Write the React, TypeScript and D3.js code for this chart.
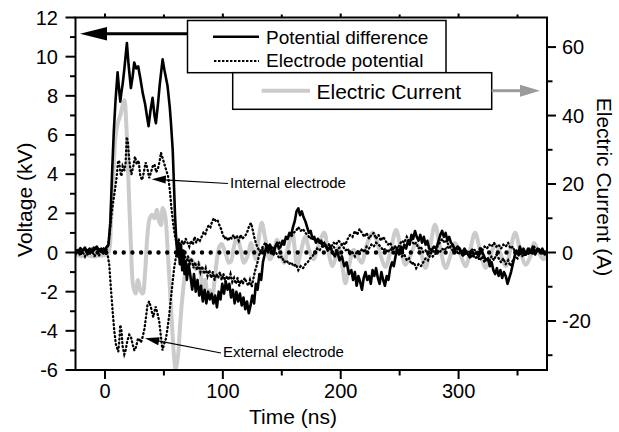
import React from 'react';
import * as d3 from 'd3';

// ---- axes ----
const timeDomain = [-25, 375];
const voltDomain = [-6, 12];
const currentPerKV = 5.72;
const timeTicks = [0, 100, 200, 300];
const timeMinor = [50, 150, 250, 350];
const voltTicks = [-6, -4, -2, 0, 2, 4, 6, 8, 10, 12];
const voltMinor = [-5, -3, -1, 1, 3, 5, 7, 9, 11];
const currTicks = [-20, 0, 20, 40, 60];
const currMinor = [-30, -10, 10, 30, 50];

// ---- series: [time ns, kV] ----
const potentialDiff: [number, number][] = [
  [-25,0.1],[-23,0.0],[-21,0.2],[-19,0.1],[-17,0.25],[-15,0.05],[-13,0.2],[-11,0.0],[-9,0.15],[-7,0.3],[-5,0.1],[-3,0.2],[-1,0.05],[1,0.25],[3,0.4],[4.5,1.5],[6,4.0],[7.5,6.2],[9,7.8],[10.7,9.2],[12,8.3],[13,7.7],[14,8.2],[15,8.6],[16.5,9.4],[18.6,10.7],[20,9.6],[22,8.4],[23.5,9.0],[24.8,9.7],[26.5,9.4],[28.2,9.5],[30,8.9],[32,8.15],[34,7.6],[35.5,7.0],[37,6.45],[38.5,7.2],[40.4,7.9],[42,7.0],[43.2,6.6],[45,7.6],[46.5,8.6],[48.9,9.86],[50.5,9.3],[53.1,8.5],[55,7.4],[56,6.6],[57.5,5.2],[58.5,3.5],[59.5,1.8],[60.5,0.6],[61.5,-0.2],[62.5,0.5],[63.5,-0.6],[64.5,0.4],[65.5,-0.9],[66.5,0.1],[67.5,-1.1],[68.5,-0.5],[69.5,-1.4],[71,-0.6],[72.5,-1.2],[74,-1.9],[75.5,-1.1],[77,-2.0],[78.5,-1.4],[80,-2.2],[81.5,-1.7],[83,-2.5],[84.5,-1.9],[86,-2.6],[87.5,-2.0],[89,-2.4],[90.5,-2.1],[92,-2.6],[93.5,-2.2],[95,-2.8],[96.5,-2.0],[98,-2.4],[99.5,-1.6],[101,-2.1],[102.5,-1.5],[104,-1.9],[105.5,-1.6],[107,-2.3],[108.5,-1.9],[110,-2.6],[111.5,-2.0],[113,-2.5],[114.5,-2.1],[116,-2.7],[117.5,-2.3],[119,-2.9],[120.5,-2.5],[122,-3.1],[123.5,-2.7],[125,-2.2],[126.5,-2.6],[128,-1.6],[129.5,-1.9],[131,-1.1],[132.5,-1.4],[134,-0.5],[135.5,-0.1],[137,0.4],[138.5,0.0],[140,0.4],[141.5,0.1],[143,-0.1],[144.5,0.3],[146,0.5],[147.5,0.2],[149,0.3],[150.5,0.6],[152,0.4],[153.5,0.8],[155,0.7],[156.5,1.0],[158,0.9],[159.5,1.3],[161,1.6],[162.5,2.1],[164,2.25],[165.5,1.9],[167,2.1],[168.5,1.8],[170,1.6],[171.5,1.3],[173,1.0],[174.5,1.1],[176,0.7],[177.5,0.8],[179,0.5],[180.5,0.7],[182,0.5],[183.5,0.6],[185,0.3],[187,0.4],[189,0.1],[191,0.3],[193,0.0],[195,-0.2],[197,0.1],[199,-0.4],[201,-0.2],[203,-0.7],[205,-0.5],[207,-1.1],[209,-0.9],[210.5,-1.4],[212,-1.0],[213.5,-1.7],[215,-1.2],[216.5,-1.5],[218,-1.9],[219.5,-1.3],[221,-1.0],[222.5,-1.4],[224,-1.2],[225.5,-1.6],[227,-0.9],[228.5,-1.2],[230,-0.8],[231.5,-1.3],[233,-1.6],[234.5,-1.0],[236,-1.4],[237.5,-1.7],[239,-1.2],[240.5,-1.4],[242,-0.8],[243.5,-0.5],[245,-0.7],[246.5,-0.2],[248,0.2],[249.5,-0.1],[251,0.3],[252.5,0.1],[254,0.4],[255.5,0.2],[257,0.6],[258.5,0.4],[260,0.9],[261.5,0.7],[263,1.1],[264.5,0.8],[266,0.6],[267.5,0.9],[269,0.5],[270.5,0.8],[272,0.4],[273.5,0.6],[275,0.2],[277,0.1],[279,0.3],[281,0.2],[283,0.6],[284.5,0.9],[286,1.1],[287.5,0.8],[289,1.0],[290.5,0.6],[292,0.8],[293.5,0.5],[295,0.4],[297,0.1],[299,0.3],[301,0.2],[303,-0.1],[305,0.2],[307,0.0],[309,-0.2],[311,0.1],[313,-0.1],[315,0.0],[317,-0.2],[319,0.2],[321,-0.1],[323,-0.4],[325,-0.3],[326.5,-0.7],[328,-0.5],[329.5,-0.9],[331,-1.1],[332.5,-0.8],[334,-1.2],[335.5,-0.9],[337,-1.3],[338.5,-1.0],[340,-1.2],[341.5,-1.6],[343,-1.3],[344.5,-1.0],[346,-0.6],[347.5,-0.2],[349,0.1],[350.5,-0.1],[352,0.3],[353.5,0.0],[355,0.2],[357,-0.1],[359,0.2],[361,0.0],[363,0.3],[365,-0.1],[367,0.2],[369,0.0],[371,0.2],[373,-0.1],[375,0.1]
];

const internalElectrode: [number, number][] = [
  [-25,0.15],[-23,0.05],[-21,0.25],[-19,0.0],[-17,0.2],[-15,-0.1],[-13,0.15],[-11,0.05],[-9,0.3],[-7,0.1],[-5,0.2],[-3,-0.05],[-1,0.2],[1,0.1],[2.5,0.3],[4,1.0],[5.5,1.9],[7,2.6],[8.5,3.2],[10,3.9],[11,4.6],[12,4.7],[13,4.1],[14,3.9],[15,4.4],[16.5,4.2],[17.5,4.6],[18.5,5.9],[19.5,5.6],[20.5,4.8],[21.5,4.3],[22.5,4.0],[24,4.4],[25.5,4.9],[27,4.5],[28.5,4.7],[30,3.9],[31.5,3.7],[33,4.1],[34.5,4.6],[36,4.3],[37.5,3.8],[39,4.1],[40.5,4.4],[42,4.5],[43.5,4.1],[45,4.3],[46.5,4.7],[47.5,5.1],[49,4.8],[50.5,4.5],[52,4.2],[53.5,3.9],[55,3.2],[56.5,2.2],[58,1.4],[59.5,0.8],[61,0.4],[62.5,0.7],[64,0.3],[65.5,0.6],[67,0.4],[68.5,0.7],[70,0.5],[71.5,0.3],[73,0.6],[74.5,0.4],[76,0.8],[77.5,0.5],[79,0.7],[80.5,0.6],[82,0.8],[83.5,1.0],[85,0.9],[86.5,1.2],[88,1.4],[89.5,1.3],[91,1.6],[92.5,1.75],[94,1.6],[95.5,1.65],[97,1.4],[98.5,1.2],[100,0.9],[101.5,0.7],[103,0.8],[104.5,0.6],[106,0.8],[107.5,0.7],[109,0.9],[110.5,0.7],[112,0.8],[113.5,0.6],[115,0.9],[116.5,0.7],[118,0.8],[119.5,0.9],[121,1.1],[122.5,1.4],[124,1.5],[125.5,1.1],[127,0.7],[128.5,0.4],[130,0.2],[132,0.0],[134,0.2],[136,0.0],[138,0.2],[140,0.1],[142,0.3],[144,0.2],[146,0.4],[148,0.5],[150,0.4],[152,0.6],[154,0.7],[156,0.9],[158,0.8],[160,1.0],[162,1.1],[164,1.3],[166,1.1],[168,1.2],[170,1.0],[172,0.9],[174,0.7],[176,0.8],[178,0.6],[180,0.5],[182,0.6],[184,0.4],[186,0.5],[188,0.3],[190,0.4],[192,0.2],[194,0.3],[196,0.1],[198,0.2],[200,0.3],[202,0.5],[204,0.4],[206,0.7],[208,0.9],[210,0.8],[212,1.1],[214,0.9],[216,1.2],[218,1.0],[220,0.8],[222,1.0],[224,0.7],[226,0.9],[228,1.0],[230,0.7],[232,0.9],[234,0.6],[236,0.8],[238,0.6],[240,0.4],[242,0.5],[244,0.2],[246,0.3],[248,0.0],[250,0.1],[252,-0.2],[254,-0.1],[256,-0.4],[258,-0.3],[260,-0.6],[262,-0.5],[264,-0.8],[266,-0.6],[268,-0.7],[270,-0.5],[272,-0.3],[274,-0.4],[276,-0.1],[278,0.1],[280,0.0],[282,0.3],[284,0.5],[286,0.7],[288,0.5],[290,0.6],[292,0.3],[294,0.2],[296,0.0],[298,0.1],[300,-0.1],[302,0.1],[304,-0.2],[306,0.0],[308,-0.1],[310,-0.3],[312,-0.1],[314,-0.3],[316,-0.2],[318,-0.4],[320,-0.2],[322,-0.5],[324,-0.3],[326,-0.5],[328,-0.2],[330,-0.4],[332,-0.1],[334,-0.3],[336,-0.5],[338,-0.3],[340,-0.6],[342,-0.4],[344,-0.7],[346,-0.4],[348,-0.2],[350,-0.3],[352,0.0],[354,-0.2],[356,0.1],[358,-0.1],[360,0.2],[362,0.0],[364,0.3],[366,0.1],[368,0.2],[370,0.0],[372,0.1],[374,-0.1]
];

const externalElectrode: [number, number][] = [
  [-25,-0.1],[-23,0.1],[-21,-0.15],[-19,0.05],[-17,-0.2],[-15,0.1],[-13,-0.1],[-11,0.15],[-9,-0.2],[-7,0.0],[-5,-0.15],[-3,0.1],[-1,-0.1],[1,-0.05],[2.5,-0.2],[3.6,-0.6],[5,-1.8],[6.5,-3.0],[7.9,-4.0],[9.3,-4.7],[11.3,-5.06],[12.3,-4.4],[13,-3.7],[14,-4.0],[15,-4.8],[16.4,-5.2],[17.5,-5.0],[19,-4.5],[20.6,-4.2],[22,-4.3],[23.5,-4.7],[25,-5.0],[26.5,-4.8],[28,-4.4],[29,-4.4],[30.5,-4.6],[32,-4.3],[33.5,-3.9],[34.7,-3.35],[36,-2.7],[37.5,-2.5],[39,-2.8],[40,-3.1],[41,-3.3],[42,-3.0],[43,-2.76],[44.5,-3.1],[46,-3.5],[47.5,-4.3],[48.8,-5.0],[50,-4.7],[51.7,-4.4],[53,-3.9],[54.5,-3.2],[56,-2.3],[57.4,-1.5],[58.7,-0.8],[60,-0.3],[61.5,0.1],[63,-0.3],[64.5,0.2],[66,-0.4],[67.5,0.0],[69,-0.5],[70.5,-0.2],[72,-0.6],[73.5,-0.3],[75,-0.8],[76.5,-0.5],[78,-0.9],[79.5,-0.6],[81,-1.0],[82.5,-0.7],[84,-1.1],[85.5,-0.8],[87,-1.2],[88.5,-0.9],[90,-1.3],[91.5,-1.0],[93,-1.4],[94.5,-1.1],[96,-1.3],[97.5,-1.0],[99,-1.4],[100.5,-1.1],[102,-1.5],[103.5,-1.2],[105,-1.4],[106.5,-1.1],[108,-1.5],[109.5,-1.3],[111,-1.6],[112.5,-1.3],[114,-1.7],[115.5,-1.4],[117,-1.6],[118.5,-1.3],[120,-1.5],[121.5,-1.7],[123,-1.4],[124.5,-1.75],[126,-1.3],[127.5,-0.9],[129,-0.6],[130.5,-0.2],[132,0.1],[134,0.3],[136,0.5],[138,0.3],[140,0.4],[142,0.2],[144,0.1],[146,-0.1],[148,-0.3],[150,-0.2],[152,-0.5],[154,-0.4],[156,-0.6],[158,-0.5],[160,-0.7],[162,-0.6],[164,-0.9],[166,-0.7],[168,-0.8],[170,-0.6],[172,-0.5],[174,-0.3],[176,-0.2],[178,0.0],[180,0.2],[182,0.1],[184,0.3],[186,0.4],[188,0.2],[190,0.4],[192,0.3],[194,0.5],[196,0.4],[198,0.6],[200,0.5],[202,0.3],[204,0.1],[206,0.2],[208,-0.1],[210,0.0],[212,-0.2],[214,0.1],[216,-0.1],[218,0.2],[220,0.0],[222,0.3],[224,0.2],[226,0.4],[228,0.3],[230,0.5],[232,0.4],[234,0.3],[236,0.1],[238,0.2],[240,0.0],[242,0.2],[244,0.1],[246,0.3],[248,0.2],[250,0.4],[252,0.6],[254,0.5],[256,0.8],[258,0.6],[260,0.7],[262,0.4],[264,0.5],[266,0.2],[268,0.3],[270,0.0],[272,0.1],[274,-0.1],[276,0.0],[278,-0.2],[280,-0.1],[282,0.1],[284,0.0],[286,0.2],[288,0.1],[290,0.3],[292,0.2],[294,0.4],[296,0.3],[298,0.1],[300,0.2],[302,0.0],[304,0.1],[306,-0.1],[308,0.1],[310,0.0],[312,0.2],[314,0.1],[316,0.0],[318,0.2],[320,0.1],[322,0.3],[324,0.2],[326,0.4],[328,0.3],[330,0.5],[332,0.3],[334,0.4],[336,0.2],[338,0.4],[340,0.3],[342,0.5],[344,0.2],[346,0.3],[348,0.0],[350,0.1],[352,-0.1],[354,0.1],[356,-0.2],[358,0.0],[360,-0.1],[362,0.1],[364,-0.1],[366,0.1],[368,0.0],[370,0.1],[372,-0.1],[374,0.0]
];

// [time ns, A]
const electricCurrent: [number, number][] = [
  [-25,-0.5],[-20,-1.0],[-15,-0.8],[-10,-1.2],[-5,-0.9],[0,-0.7],[3,0.0],[5,8],[7,22],[9,34],[11,38],[13,40],[15,43],[16.5,44.5],[18,38],[20,20],[22,2],[24,-10],[26,-12],[28,-8],[30,-11],[32,-12],[34,-6],[36,5],[38,10],[40,11],[42,10],[44,12.5],[46,9],[47.5,8],[49,13],[51,11],[53,2],[55,-10],[57,-22],[59,-32],[60,-34],[62,-30],[64,-20],[66,-12],[68,-6],[70,-3],[73,-2],[75,-3],[77,-5],[79,-3],[81,-6],[83,-10],[85,-8],[87,-12],[89,-11],[91,-13],[93,-8],[95,-2],[97,1.7],[99,2.5],[101,1],[103,-1],[105,-3],[107,-2.5],[109,1],[112,4.6],[115,1],[118,-3],[121,-1],[124,2.8],[126,0],[128,-2],[130,3],[133,8.7],[136,4],[140,-2],[143,0],[146,3.7],[149,0],[152,-3],[155,1],[159,5.8],[161,1],[163,-4],[166,0],[170,4.6],[173,1],[177,-2],[180,1],[186,5.8],[189,1],[193,-4],[196,-1],[198,1.7],[201,-3],[204,-9],[207,-4],[211,0.8],[214,-1],[218,-3],[221,1],[224,4],[227,5.8],[230,4],[234,-1],[238,-4.2],[242,0],[247,6.6],[251,1],[255,-3.6],[259,-1],[264,2.8],[268,0],[272,-4.5],[276,2],[280,8.1],[284,2],[289,-4.5],[293,-1],[297,2.8],[301,0],[306,-4],[310,1],[314,5.8],[318,1],[323,-4.5],[327,-1],[331,2.2],[335,0],[340,-4],[344,1],[348,5.8],[352,1],[357,-3.6],[361,-1],[364,2.8],[368,0],[372,-2],[375,0]
];

const zeroLine: [number, number][] = [[-21, 0], [373, 0]];

const legendLabels = ['Potential difference', 'Electrode potential', 'Electric Current'];
const annotationLabels = ['Internal electrode', 'External electrode'];

const W = 619, H = 432;
const M = { left: 75.5, right: 547, top: 17.5, bottom: 370 };
const FONT = "'Liberation Sans', Arial, Helvetica, sans-serif";
const DOTS = "0.9 3.1";

export default function App() {
  const x = d3.scaleLinear().domain(timeDomain).range([M.left, M.right]);
  const y = d3.scaleLinear().domain(voltDomain).range([M.bottom, M.top]);
  const y2 = d3.scaleLinear()
    .domain([voltDomain[0] * currentPerKV, voltDomain[1] * currentPerKV])
    .range([M.bottom, M.top]);

  const lineV = d3.line<[number, number]>().x(d => x(d[0])).y(d => y(d[1]));
  const lineA = d3.line<[number, number]>().x(d => x(d[0])).y(d => y2(d[1])).curve(d3.curveCatmullRom.alpha(0.5));

  const major = 9, minor = 5.5;

  return (
    <svg width={W} height={H} style={{ position: 'absolute', left: 0, top: 0, background: '#fff' }}
      fontFamily={FONT}>
      <defs>
        <clipPath id="plot">
          <rect x={M.left} y={M.top} width={M.right - M.left} height={M.bottom - M.top} />
        </clipPath>
      </defs>
      <rect x={0} y={0} width={W} height={H} fill="#fff" />

      <g clipPath="url(#plot)">
        <path d={lineA(electricCurrent) || ''} fill="none" stroke="#cbcbcb" strokeWidth={4} strokeLinejoin="round" />
        <path d={lineV(zeroLine) || ''} fill="none" stroke="#000" strokeWidth={4.4}
          strokeDasharray="0 8.7" strokeLinecap="round" />
        <path d={lineV(externalElectrode) || ''} fill="none" stroke="#000" strokeWidth={2.3}
          strokeDasharray={DOTS} strokeLinecap="round" />
        <path d={lineV(internalElectrode) || ''} fill="none" stroke="#000" strokeWidth={2.3}
          strokeDasharray={DOTS} strokeLinecap="round" />
        <path d={lineV(potentialDiff) || ''} fill="none" stroke="#000" strokeWidth={2.6} strokeLinejoin="round" />
      </g>

      {/* frame */}
      <rect x={M.left} y={M.top} width={M.right - M.left} height={M.bottom - M.top}
        fill="none" stroke="#000" strokeWidth={2} />

      {/* bottom & top ticks */}
      {timeTicks.map(t => (
        <g key={'bt' + t}>
          <line x1={x(t)} x2={x(t)} y1={M.bottom} y2={M.bottom + major} stroke="#000" strokeWidth={2} />
          <line x1={x(t)} x2={x(t)} y1={M.top} y2={M.top - 4} stroke="#000" strokeWidth={2} />
          <text x={x(t)} y={398} textAnchor="middle" fontSize={20}>{t}</text>
        </g>
      ))}
      {timeMinor.map(t => (
        <g key={'bm' + t}>
          <line x1={x(t)} x2={x(t)} y1={M.bottom} y2={M.bottom + minor} stroke="#000" strokeWidth={2} />
          <line x1={x(t)} x2={x(t)} y1={M.top} y2={M.top - 3} stroke="#000" strokeWidth={2} />
        </g>
      ))}

      {/* left ticks */}
      {voltTicks.map(v => (
        <g key={'lt' + v}>
          <line x1={M.left - major - 1} x2={M.left} y1={y(v)} y2={y(v)} stroke="#000" strokeWidth={2} />
          <text x={58} y={y(v) + 7} textAnchor="end" fontSize={20}>{v}</text>
        </g>
      ))}
      {voltMinor.map(v => (
        <line key={'lm' + v} x1={M.left - minor} x2={M.left} y1={y(v)} y2={y(v)} stroke="#000" strokeWidth={2} />
      ))}

      {/* right ticks */}
      {currTicks.map(a => (
        <g key={'rt' + a}>
          <line x1={M.right} x2={M.right + major} y1={y2(a)} y2={y2(a)} stroke="#000" strokeWidth={2} />
          <text x={562} y={y2(a) + 7} textAnchor="start" fontSize={20}>{a}</text>
        </g>
      ))}
      {currMinor.map(a => (
        <line key={'rm' + a} x1={M.right} x2={M.right + minor} y1={y2(a)} y2={y2(a)} stroke="#000" strokeWidth={2} />
      ))}

      {/* axis titles */}
      <text x={293} y={424} textAnchor="middle" fontSize={21}>Time (ns)</text>
      <text transform={`translate(32,${(M.top + M.bottom) / 2 + 6}) rotate(-90)`} textAnchor="middle" fontSize={21}>Voltage (kV)</text>
      <text transform={`translate(597,187) rotate(90)`} textAnchor="middle" fontSize={21}>Electric Current (A)</text>

      {/* left arrow (voltage axis) */}
      <line x1={187.5} x2={100} y1={33.7} y2={33.7} stroke="#000" strokeWidth={3} />
      <path d="M80,33.7 L107,27 L107,40.4 Z" fill="#000" />

      {/* legend box 1 */}
      <rect x={187.5} y={20.5} width={258.5} height={52.2} fill="#fff" stroke="#000" strokeWidth={1.5} />
      <line x1={213} x2={259} y1={36.7} y2={36.7} stroke="#000" strokeWidth={2.4} />
      <text x={266} y={44} fontSize={19}>{legendLabels[0]}</text>
      <line x1={214} x2={259} y1={61} y2={61} stroke="#000" strokeWidth={2} strokeDasharray="2.4 1.6" />
      <text x={266} y={67} fontSize={19}>{legendLabels[1]}</text>

      {/* legend box 2 */}
      <rect x={232.7} y={72.7} width={259} height={36.6} fill="#fff" stroke="#000" strokeWidth={1.5} />
      <line x1={261.7} x2={310} y1={90.7} y2={90.7} stroke="#cbcbcb" strokeWidth={4} />
      <text x={316.5} y={99} fontSize={21}>{legendLabels[2]}</text>

      {/* gray arrow (current axis) */}
      <line x1={491.7} x2={522} y1={90.7} y2={90.7} stroke="#9b9b9b" strokeWidth={3} />
      <path d="M540,90.7 L520,84.7 L520,96.7 Z" fill="#9b9b9b" />

      {/* annotations */}
      <line x1={228} y1={183.5} x2={160} y2={179.7} stroke="#000" strokeWidth={1.2} />
      <path d="M151.7,179.3 L166,175.6 L165.6,183.6 Z" fill="#000" />
      <text x={230} y={188} fontSize={15}>{annotationLabels[0]}</text>

      <line x1={221} y1={353} x2={153} y2={339.8} stroke="#000" strokeWidth={1.2} />
      <path d="M145,338.3 L159.7,337.3 L158.2,345.2 Z" fill="#000" />
      <text x={223} y={356.5} fontSize={15}>{annotationLabels[1]}</text>
    </svg>
  );
}
